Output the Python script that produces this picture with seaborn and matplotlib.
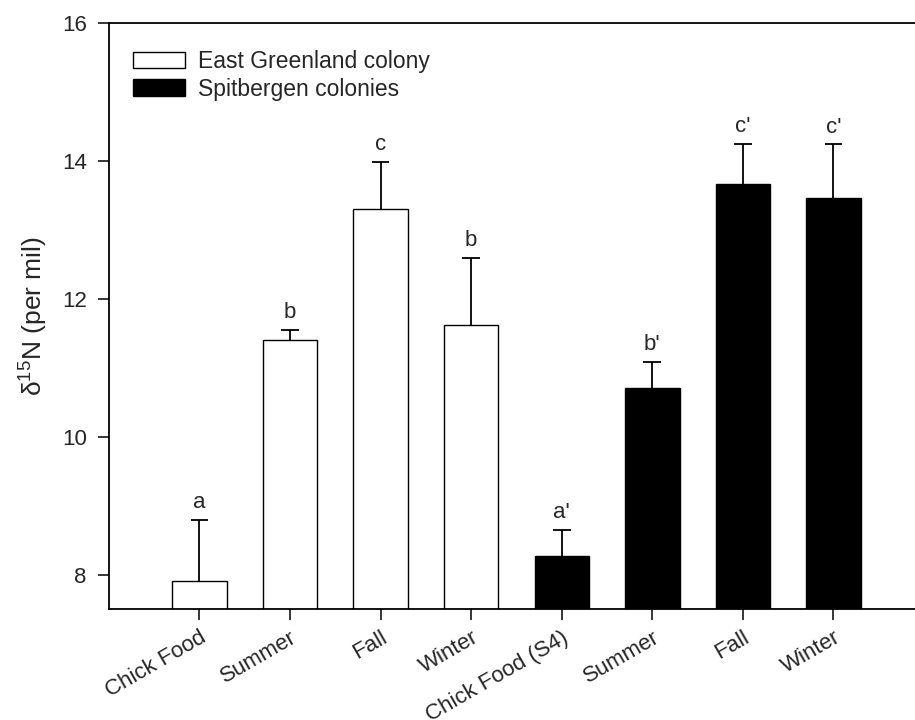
import numpy as np
import pandas as pd
import matplotlib
matplotlib.use("Agg")
import matplotlib.pyplot as plt
import seaborn as sns

# values
labels = ["Chick Food", "Summer", "Fall", "Winter",
          "Chick Food (S4)", "Summer", "Fall", "Winter"]
colony = ["East Greenland colony"] * 4 + ["Spitbergen colonies"] * 4
means = [7.91, 11.40, 13.30, 11.62, 8.27, 10.71, 13.67, 13.46]
errs = [0.89, 0.15, 0.69, 0.97, 0.38, 0.38, 0.58, 0.78]
letters = ["a", "b", "c", "b", "a'", "b'", "c'", "c'"]

sns.set_style("ticks")
plt.rcParams["font.family"] = ["Liberation Sans", "DejaVu Sans"]
plt.rcParams["mathtext.fontset"] = "custom"
plt.rcParams["mathtext.rm"] = "Liberation Sans"
plt.rcParams["font.size"] = 16

df = pd.DataFrame({"pos": np.arange(len(means)), "value": means, "colony": colony})

fig = plt.figure(figsize=(9.15, 7.2), dpi=100)
ax = fig.add_axes([0.119, 0.1537, 0.881, 0.8144])

sns.barplot(data=df, x="pos", y="value", hue="colony", dodge=False, width=0.6,
            palette={"East Greenland colony": "white", "Spitbergen colonies": "black"},
            edgecolor="black", linewidth=1, errorbar=None, ax=ax)

# upper error bars only
x = np.arange(len(means))
tops = np.array(means) + np.array(errs)
ax.vlines(x, means, tops, color="black", linewidth=1.3, zorder=1)
ax.hlines(tops, x - 0.098, x + 0.098, color="black", linewidth=1.3, zorder=1)

for xi, t, lab in zip(x, tops, letters):
    ax.text(xi, t + 0.17, lab, ha="center", va="baseline", fontsize=16)

ax.set_ylim(7.5, 16)
ax.set_xlim(-1, 7.9)
ax.set_yticks([8, 10, 12, 14, 16])
ax.set_xticks(x)
ax.set_xticklabels(labels, rotation=30, ha="right", rotation_mode="anchor")
ax.set_xlabel("")
ax.set_ylabel(r"δ$^{15}$N (per mil)", fontsize=19, labelpad=9)

for s in ["left", "bottom", "top"]:
    ax.spines[s].set_linewidth(1.3)
    ax.spines[s].set_color("black")
ax.spines["right"].set_visible(False)
ax.tick_params(axis="y", direction="out", length=8, width=1.3, labelsize=16, pad=8)
ax.tick_params(axis="x", direction="out", length=8, width=1.3, labelsize=16, pad=5)

ax.legend(loc="upper left", bbox_to_anchor=(0.03, 0.954), frameon=False,
          borderaxespad=0, borderpad=0, handlelength=2.27, handleheight=0.74,
          handletextpad=0.57, labelspacing=0.2, fontsize=16.5, title=None)

fig.savefig("out.png", dpi=100)
